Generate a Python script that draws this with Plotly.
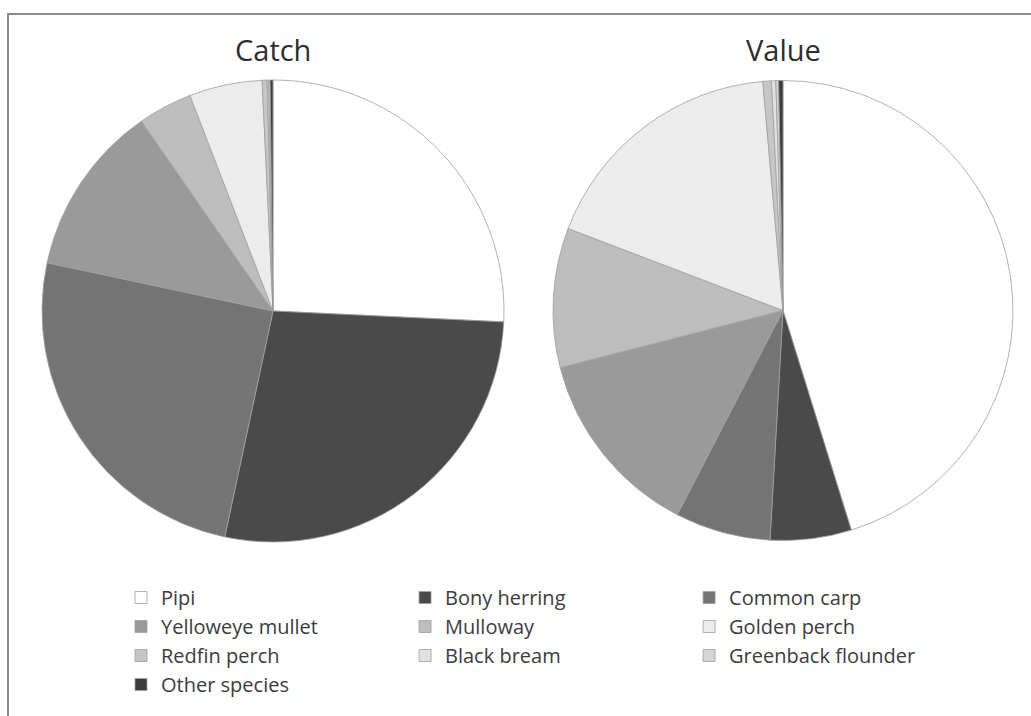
import plotly.graph_objects as go

# Species, shares of total catch and total value (%), and slice shades
species = ["Pipi", "Bony herring", "Common carp", "Yelloweye mullet", "Mulloway",
           "Golden perch", "Redfin perch", "Black bream", "Greenback flounder", "Other species"]
catch_pct = [25.75, 27.6, 25.0, 12.0, 3.8, 5.1, 0.35, 0.1, 0.1, 0.2]
value_pct = [45.2, 5.7, 6.7, 13.4, 9.8, 17.8, 0.6, 0.3, 0.2, 0.3]
shades = ["#ffffff", "#4a4a4a", "#747474", "#9a9a9a", "#bdbdbd",
          "#ececec", "#c6c6c6", "#e2e2e2", "#d4d4d4", "#3c3c3c"]

W, H = 1031, 716


def px_x(v):
    return v / W


def px_y(v):
    return 1 - v / H


common = dict(labels=species, marker=dict(colors=shades, line=dict(color="#a0a0a0", width=0.8)),
              sort=False, direction="clockwise", rotation=0, textinfo="none",
              hoverinfo="label+percent")

fig = go.Figure()
fig.add_trace(go.Pie(values=catch_pct, name="Catch",
                     domain=dict(x=[px_x(42), px_x(504)], y=[px_y(542), px_y(80)]), **common))
fig.add_trace(go.Pie(values=value_pct, name="Value", showlegend=False,
                     domain=dict(x=[px_x(553), px_x(1013)], y=[px_y(541), px_y(80)]), **common))

font_family = "'Open Sans', Lato, sans-serif"

fig.update_layout(
    width=W, height=H,
    margin=dict(l=0, r=0, t=0, b=0, autoexpand=False),
    paper_bgcolor="white", plot_bgcolor="white",
    font=dict(family=font_family, color="#3a3a3a"),
    legend=dict(orientation="h", xref="container", yref="container",
                x=px_x(121), y=px_y(578), xanchor="left", yanchor="top",
                entrywidth=0.2755, entrywidthmode="fraction", traceorder="normal",
                font=dict(size=20, color="#3c3c3c", family=font_family),
                bgcolor="rgba(0,0,0,0)"),
    annotations=[
        dict(text="Catch", x=px_x(273), y=px_y(50), xref="paper", yref="paper",
             xanchor="center", yanchor="middle", showarrow=False,
             font=dict(size=29, color="#2e2e2e", family=font_family)),
        dict(text="Value", x=px_x(783), y=px_y(50), xref="paper", yref="paper",
             xanchor="center", yanchor="middle", showarrow=False,
             font=dict(size=29, color="#2e2e2e", family=font_family)),
    ],
    shapes=[
        dict(type="path", xref="paper", yref="paper",
             path=f"M {px_x(8)},0 L {px_x(8)},{px_y(14)} L 1,{px_y(14)}",
             line=dict(color="#8a8a8a", width=2)),
    ],
)

fig.write_html("out.html")
